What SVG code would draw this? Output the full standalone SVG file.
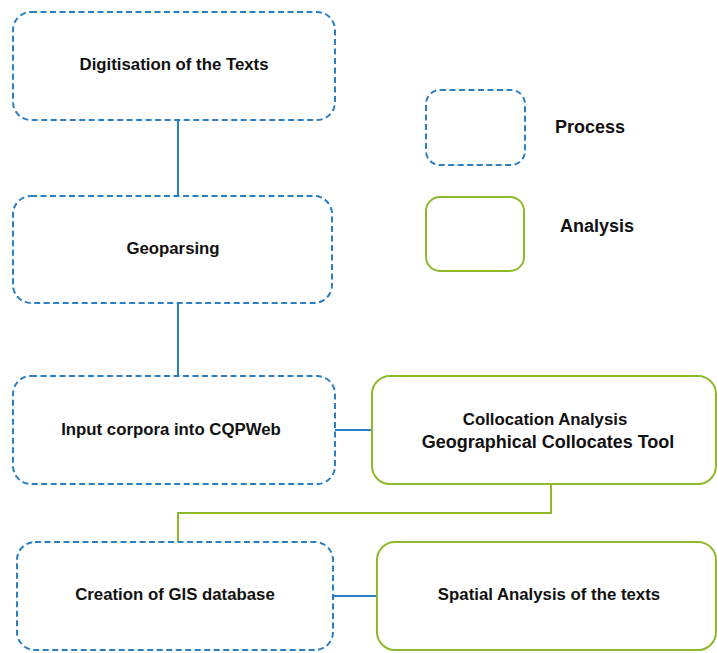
<svg xmlns="http://www.w3.org/2000/svg" width="717" height="653" viewBox="0 0 717 653">
<style>
.proc{fill:#fff;stroke:#2B80C3;stroke-width:2;stroke-dasharray:6 3.5}
.ana{fill:#fff;stroke:#8CBA2B;stroke-width:2}
.t{font-family:"Liberation Sans",Arial,sans-serif;font-weight:bold;font-size:16.8px;fill:#111;text-anchor:middle;dominant-baseline:central}
.big{font-size:18px}
.cb{stroke:#2B80C3;stroke-width:2;fill:none}
.cg{stroke:#8CBA2B;stroke-width:2;fill:none}
</style>
<rect width="717" height="653" fill="#fff"/>
<g id="connectors">
<line class="cb" x1="178" y1="120" x2="178" y2="196"/>
<line class="cb" x1="178" y1="303" x2="178" y2="376"/>
<line class="cb" x1="335" y1="430" x2="372" y2="430"/>
<polyline class="cg" points="551,484 551,513 178,513 178,542"/>
<line class="cb" x1="333" y1="596" x2="377" y2="596"/>
</g>
<g id="digitisation">
<rect class="proc" x="13" y="12" width="322" height="108" rx="18"/>
<text class="t" x="174" y="64">Digitisation of the Texts</text>
</g>
<g id="geoparsing">
<rect class="proc" x="13" y="196" width="319" height="107" rx="18"/>
<text class="t" x="173" y="248">Geoparsing</text>
</g>
<g id="input">
<rect class="proc" x="13" y="376" width="322" height="108" rx="18"/>
<text class="t" x="171" y="429">Input corpora into CQPWeb</text>
</g>
<g id="gis">
<rect class="proc" x="17" y="542" width="316" height="108" rx="18"/>
<text class="t" x="175" y="594">Creation of GIS database</text>
</g>
<g id="collocation">
<rect class="ana" x="372" y="376" width="344" height="108" rx="18"/>
<text class="t" x="545" y="419">Collocation Analysis</text>
<text class="t big" x="548" y="442">Geographical Collocates Tool</text>
</g>
<g id="spatial">
<rect class="ana" x="377" y="542" width="339" height="108" rx="18"/>
<text class="t" x="549" y="594">Spatial Analysis of the texts</text>
</g>
<g id="legend-process">
<rect class="proc" x="426" y="90" width="99" height="75" rx="14"/>
<text class="t big" x="590" y="127">Process</text>
</g>
<g id="legend-analysis">
<rect class="ana" x="426" y="197" width="98" height="74" rx="14"/>
<text class="t big" x="597" y="226">Analysis</text>
</g>
</svg>
